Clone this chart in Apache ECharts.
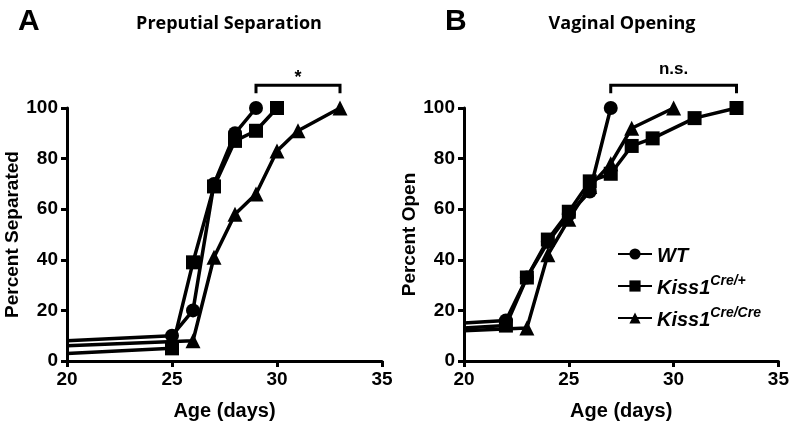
<!DOCTYPE html>
<html>
<head>
<meta charset="utf-8">
<script src="https://cdn.jsdelivr.net/npm/echarts@6/dist/echarts.min.js"></script>
<style>
html,body{margin:0;padding:0;background:#fff;}
#chart{width:792px;height:435px;}
</style>
</head>
<body>
<div id="chart"></div>
<script>
// 数据 (Age in days, percent)
var seriesNames = ['WT', 'Kiss1Cre/+', 'Kiss1Cre/Cre'];
var xTicks = [20, 25, 30, 35];
var yTicks = [0, 20, 40, 60, 80, 100];

// A: Preputial Separation
var wtA  = [[20, 8], [25, 10], [26, 20], [27, 70], [28, 90], [29, 100]];
var hetA = [[20, 3], [25, 5], [26, 39], [27, 69], [28, 87], [29, 91], [30, 100]];
var homA = [[20, 6], [26, 8], [27, 41], [28, 58], [29, 66], [30, 83], [31, 91], [33, 100]];

// B: Vaginal Opening
var wtB  = [[20, 15], [22, 16], [23, 33], [24, 47], [25, 58], [26, 67], [27, 100]];
var hetB = [[20, 13], [22, 14], [23, 33], [24, 48], [25, 59], [26, 71], [27, 74], [28, 85], [29, 88], [31, 96], [33, 100]];
var homB = [[20, 12], [23, 13], [24, 42], [25, 56], [26, 69], [27, 78], [28, 92], [30, 100]];

// 显著性标注: [from, to, level, label]
var bracketA = [29, 33, 109, '*'];
var bracketB = [27, 33, 109, 'n.s.'];

var chart = echarts.init(document.getElementById('chart'));
var FONT = '"Liberation Sans", Arial, sans-serif';

function xAxisOf(idx){
  return {
    type: 'value', gridIndex: idx, min: xTicks[0], max: xTicks[xTicks.length - 1], interval: 5,
    name: 'Age (days)', nameLocation: 'middle', nameGap: 40,
    nameTextStyle: {fontFamily: FONT, fontWeight: 'bold', fontSize: 20, color: '#000'},
    axisLine: {lineStyle: {color: '#000', width: 3}},
    axisTick: {length: 6, lineStyle: {color: '#000', width: 3}},
    axisLabel: {fontFamily: FONT, fontWeight: 'bold', fontSize: 19, color: '#000', margin: 9},
    splitLine: {show: false}
  };
}
function yAxisOf(idx, name){
  return {
    type: 'value', gridIndex: idx, min: yTicks[0], max: yTicks[yTicks.length - 1], interval: 20,
    name: name, nameLocation: 'middle', nameGap: 42,
    nameTextStyle: {fontFamily: FONT, fontWeight: 'bold', fontSize: 19, color: '#000'},
    axisLine: {lineStyle: {color: '#000', width: 3}},
    axisTick: {length: 6, lineStyle: {color: '#000', width: 3}},
    axisLabel: {fontFamily: FONT, fontWeight: 'bold', fontSize: 19, color: '#000', margin: 9},
    splitLine: {show: false}
  };
}
function lineOf(name, data, idx, symbol){
  // 起点(20天)不画标记
  var pts = data.map(function(d, i){ return i === 0 ? {value: d, symbol: 'none'} : d; });
  return {
    name: name, type: 'line', xAxisIndex: idx, yAxisIndex: idx, data: pts,
    symbol: symbol, symbolSize: symbol === 'triangle' ? 15 : 14,
    lineStyle: {color: '#000', width: 3.5},
    itemStyle: {color: '#000'},
    z: 3
  };
}
function bracketOf(b, idx){
  return {
    type: 'custom', xAxisIndex: idx, yAxisIndex: idx, silent: true, clip: false,
    data: [b],
    renderItem: function(params, api){
      var p1 = api.coord([b[0], b[2]]);
      var p2 = api.coord([b[1], b[2]]);
      var drop = 8;
      var star = b[3] === '*';
      return {
        type: 'group',
        children: [
          {type: 'polyline', shape: {points: [[p1[0], p1[1] + drop], p1, p2, [p2[0], p2[1] + drop]]},
           style: {stroke: '#000', lineWidth: 3, fill: null}},
          {type: 'text', style: {text: b[3], x: (p1[0] + p2[0]) / 2, y: p1[1] - (star ? -2 : 7),
           align: 'center', verticalAlign: 'bottom', fill: '#000',
           font: 'bold ' + (star ? 18 : 17) + 'px ' + FONT}}
        ]
      };
    }
  };
}

var option = {
  backgroundColor: '#fff',
  animation: false,
  title: [
    {text: 'A', left: 13, top: 2, textStyle: {fontFamily: FONT, fontWeight: 'bold', fontSize: 30, color: '#000'}},
    {text: 'Preputial Separation', left: 224, top: 10, textAlign: 'center', textStyle: {fontFamily: '"Open Sans", sans-serif', fontWeight: 'bold', fontSize: 18, color: '#000'}},
    {text: 'B', left: 440, top: 2, textStyle: {fontFamily: FONT, fontWeight: 'bold', fontSize: 30, color: '#000'}},
    {text: 'Vaginal Opening', left: 617, top: 10, textAlign: 'center', textStyle: {fontFamily: '"Open Sans", sans-serif', fontWeight: 'bold', fontSize: 18, color: '#000'}}
  ],
  legend: {
    data: seriesNames, orient: 'vertical', left: 612, top: 241, itemGap: 8,
    itemWidth: 34, itemHeight: 14,
    formatter: function(name){
      if (name === 'WT') return '{b|WT}';
      return '{b|Kiss1}{s|' + name.replace('Kiss1', '') + '}';
    },
    textStyle: {
      rich: {
        b: {fontFamily: FONT, fontWeight: 'bold', fontStyle: 'italic', fontSize: 20, color: '#000', lineHeight: 24, verticalAlign: 'bottom'},
        s: {fontFamily: FONT, fontWeight: 'bold', fontStyle: 'italic', fontSize: 14, color: '#000', lineHeight: 24, verticalAlign: 'top', padding: [0, 0, 7, 0]}
      }
    }
  },
  grid: [
    {left: 67, right: 410, top: 108, bottom: 74},
    {left: 464, right: 13, top: 108, bottom: 74}
  ],
  xAxis: [xAxisOf(0), xAxisOf(1)],
  yAxis: [yAxisOf(0, 'Percent Separated'), yAxisOf(1, 'Percent Open')],
  series: [
    lineOf(seriesNames[0], wtA, 0, 'circle'),
    lineOf(seriesNames[1], hetA, 0, 'rect'),
    lineOf(seriesNames[2], homA, 0, 'triangle'),
    lineOf(seriesNames[0], wtB, 1, 'circle'),
    lineOf(seriesNames[1], hetB, 1, 'rect'),
    lineOf(seriesNames[2], homB, 1, 'triangle'),
    bracketOf(bracketA, 0),
    bracketOf(bracketB, 1)
  ]
};
chart.setOption(option);
</script>
</body>
</html>
